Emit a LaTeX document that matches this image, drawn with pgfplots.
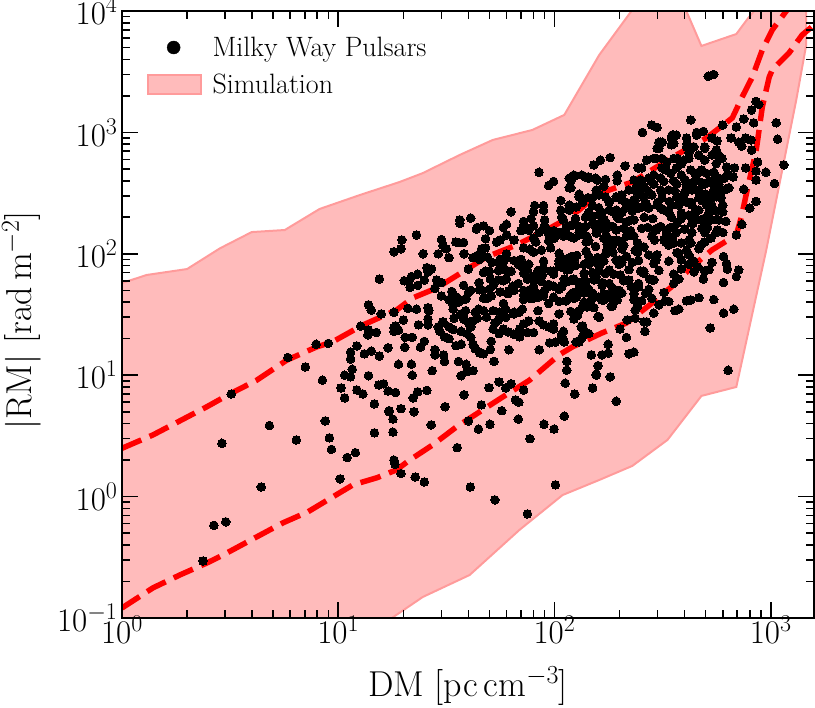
\RequirePackage{fix-cm}
\documentclass[border=0pt]{standalone}
\usepackage{pgfplots}
\pgfplotsset{compat=1.18}
\DeclareMathSizes{33}{33}{24}{17}
\DeclareMathSizes{36}{36}{26}{18}
\definecolor{bandfill}{RGB}{255,187,187}
\definecolor{bandedge}{RGB}{255,155,155}
\begin{document}
\begin{tikzpicture}
\useasboundingbox (-122pt,-90pt) rectangle (693pt,618pt);
\begin{axis}[
  scale only axis, width=692pt, height=607pt,
  at={(0pt,0pt)}, anchor=south west,
  xmode=log, ymode=log, xmin=1, xmax=1585, ymin=0.1, ymax=10000,
  xtick={1,10,100,1000}, ytick={0.1,1,10,100,1000,10000},
  axis on top,
  tick align=inside, major tick length=16pt, minor tick length=8pt,
  every tick/.style={black,line width=1.6pt},
  axis line style={black,line width=2.2pt},
  tick label style={font=\fontsize{33}{38}\selectfont},
  xticklabel style={yshift=5pt},
  yticklabel style={xshift=-1pt},
  label style={font=\fontsize{36}{42}\selectfont},
  xlabel={DM [pc\,cm$^{-3}$]},
  ylabel={$|$RM$|$ [rad\,m$^{-2}$]},
  xlabel style={at={(rel axis cs:0.5,0)},anchor=base,yshift=-79pt,xshift=0pt},
  ylabel style={at={(rel axis cs:0,0.49)},anchor=base,yshift=90pt},
  legend style={at={(0.031,0.964)},anchor=north west,draw=none,fill=none,
    font=\fontsize{28}{33}\selectfont,row sep=12pt,
    /tikz/every odd column/.append style={column sep=9pt}},
  legend cell align=left,
]
\addlegendimage{legend image code/.code={\fill[black] (26pt,0pt) circle (6.5pt);}}
\addlegendentry{Milky Way Pulsars}
\addlegendimage{legend image code/.code={\draw[bandedge,fill=bandfill,line width=2pt] (0pt,-9pt) rectangle (53pt,10pt);}}
\addlegendentry{Simulation}

% simulation envelope
\addplot[forget plot,draw=bandedge,fill=bandfill,line width=2pt] coordinates {
(1,57.4) (1.30,66.9) (2.0,74.9) (2.84,111) (3.98,151) (5.66,157) (8.2,234) (12.6,305) (19.2,390)
(24.6,462) (36.4,651) (51.8,866) (79,1047) (111,1393) (161,4340) (227,10000) (305,20000) (407,10000)
(478,5150) (693,6460) (787,8750) (857,10500) (1000,20000) (1459,20000) (1459,5250) (1312,1850) (953,107)
(693,8.0) (478,6.75) (333,2.93) (229,1.79) (161,1.37) (109,1.03) (68.9,.532) (40.5,.226) (24.6,.149)
(17.7,.1) (12.6,.055) (1,.055)
} -- cycle;

% pulsars
\addplot[forget plot,only marks,mark=*,mark size=4.3pt,mark options={fill=black,draw=black,line width=0pt}] coordinates {
(2.37,.295) (2.66,.58) (3.02,.62) (2.9,2.75) (3.2,7.0) (4.4,1.2) (4.8,3.85) (6.4,2.93) (5.85,14) (7.05,11.7)
(7.9,18) (9.0,18.3) (8.45,9.1) (8.7,4.2) (9.1,3.05) (9.3,2.45) (10.2,1.4) (11,2.1) (12,2.3) (12.7,25.4)
(13.8,38) (14.2,34.4) (15.8,32) (18.1,33) (13.8,23.6) (13.7,21.5) (15,22.5) (18.1,24.5) (18.1,23) (12.2,17.4)
(11.4,15.5) (11.4,13.6) (13.2,15) (14.2,15.8) (17,16.8) (15.5,14.4) (19,12.3) (11.6,11.2) (10.7,10) (11.4,9.7)
(13.8,9.9) (15.4,8.3) (16.2,8.5) (17,7.4) (18.4,7.2) (10.3,7.85) (10.7,6.5) (12.2,7.55) (13,7) (14.7,5.8)
(17.2,5) (17.9,4.35) (19.5,5.3) (14.7,3.35) (17.9,3.4) (18.1,2) (18.3,1.85) (19.5,1.55) (22.7,1.45) (25,1.32)
(40.8,1.2) (53,.94) (75,.72) (101,1.25) (35.5,2.53) (77,3.0) (99.5,3.6) (89.4,3.95) (111,4.6) (68,4.35)
(57,5.1) (50.3,3.95) (44.5,3.6) (40,4.2) (45.9,5.7) (66,6.25) (68.5,6) (38.2,6.9) (31.2,5.5) (26.9,3.9)
(22.4,5) (17.2,5.1) (22.2,6.5) (23.3,7.3) (22,10) (27.2,10.9) (37,9.9) (39.3,10.7) (49.8,7.9) (55.4,8.8)
(59.5,7.85) (63,8.5) (72,7.55) (112,8.6) (124,7) (150,7.85) (156,10) (114,11)
(635,11) (525,24.5) (605,32.5) (675,35) (545,42) (465,43.5) (427,41.7) (408,41) (376,35) (360,34)
(338,40.5) (325,41) (304,38) (288,32.5) (267,27.5) (259,27.5) (262,23) (233,15.5) (221,15) (215,20.5)
(201,24) (217,28.5) (236,29.5) (236,34.4) (242,37) (233,41.7) (253,41) (177,15.2) (166,14.7) (148,14.7)
(177,18) (159,12) (156,10.2) (181,9.7) (193,6.1) (133,20) (126,18.8) (159,30.5) (123,29) (133,25)
(136,24) (110,23) (111,18.8) (108,21) (605,95) (625,83) (630,75) (711,73.6) (693,65) (605,58)
(535,85) (495,72) (488,62) (441,71) (460,78) (386,75) (376,62) (282,60.8) (276,62) (245,53.5)
(264,47.5) (282,43) (221,60.8) (226,54) (201,67) (186,52) (205,47.5) (195,41.7) (183,43.5) (183,37)
(152,36) (119,33.5) (135,37) (141,36.5) (105,40.5) (113,41) (123,43) (130,52) (121,47.5) (148,41.7)
(165,41.7) (150,47.5) (166,58) (156,65) (172,69) (179,73.6) (130,58) (140,59) (108,53.5) (121,60.8)
(114,73.6) (107,78) (150,86) (161,79) (144,95) (158,93) (172,99) (193,89) (205,85) (229,85)
(250,72) (259,72) (242,103) (273,98) (298,98) (295,89) (368,102) (386,89) (418,98) (441,87)
(427,1266) (282,1150) (298,1100) (255,1000) (356,950) (347,900) (455,1000) (488,1020) (455,950) (600,1150)
(750,1290) (1060,1200) (1075,880) (815,1530) (855,1800) (880,1700) (834,1200) (693,1110) (655,900) (711,830)
(765,900) (810,866) (735,770) (815,716) (870,570) (1150,540) (950,470) (1040,380) (855,405) (855,480)
(765,510) (750,340) (855,270) (800,238) (735,175) (693,143) (680,510) (640,445) (625,520) (560,716)
(575,650) (595,610) (495,740) (565,850) (535,900) (410,810) (304,830) (315,830) (304,740) (356,810)
(181,620) (163,590) (152,540) (212,530) (124,440) (119,400) (119,350) (139,430) (144,420) (158,405)
(172,410) (169,360) (156,335) (195,445) (195,400) (267,592) (295,610) (245,510) (253,510) (328,490)
(366,510) (370,610) (418,680) (396,590)
(514,2900) (545,3000)
(350,950) (366,950) (347,790) (310,830) (298,740) (314,610) (288,610) (243,510) (408,900) (455,990)
(441,760) (408,760) (495,760) (535,650) (495,590) (465,650) (418,610) (386,550) (356,610) (331,570)
(314,510) (288,445) (273,420) (250,405) (233,405) (221,335) (205,305) (240,360) (259,360) (288,375)
(310,420) (345,460) (386,445) (427,490) (465,470) (505,460) (546,405) (495,375) (455,405) (432,385)
(408,350) (368,375) (338,335) (310,335) (282,305) (259,290) (236,277) (215,265) (195,290) (179,265)
(166,220) (179,229) (193,229) (205,220) (229,225) (245,238) (273,238) (310,238) (347,252) (376,252)
(408,267) (432,252) (465,288) (505,252) (546,335) (465,335) (396,305) (368,295) (314,288) (518,218)
(465,229) (418,208) (386,218) (347,200) (321,229) (298,252) (253,243) (490,195) (450,195) (368,178)
(328,157) (298,162) (288,157) (253,162) (233,190) (215,183) (199,195) (186,222) (174,178) (163,165)
(174,140) (193,130) (215,140) (233,140) (242,123) (209,118) (186,118) (338,140) (366,150) (432,178)
(432,150) (480,190) (427,123) (475,118) (386,123) (338,118) (321,130)
(560,555) (546,470) (575,420) (575,375) (480,490) (450,445) (480,385) (432,335) (408,375) (475,295)
(535,245) (600,252) (600,222) (575,190) (620,185) (565,157) (495,178) (480,162) (495,150) (436,178)
(495,125) (465,110) (408,107) (376,101) (560,295) (535,385) (570,305) (530,190)
(295,157) (310,168) (331,143) (356,123) (328,125) (282,140) (259,114) (203,123) (205,110) (236,107)
(215,95) (199,89) (186,103) (179,130) (195,200) (179,270) (172,295) (161,305) (150,290) (130,295)
(135,265) (117,229) (126,243) (108,200) (144,220) (139,200) (161,210) (161,178) (150,178) (139,168)
(130,168) (121,172) (113,162) (105,150) (117,140) (130,143) (141,140) (156,148) (172,157) (186,168)
(193,157) (209,162) (226,190) (215,243) (233,277) (245,320) (205,277) (193,295)
(76,28) (85,28) (69,24) (58,24) (61,22.7) (55.5,22) (64.8,21.8) (69,20.7) (75,22.5) (80,22.4)
(89,26) (94,25) (99,26.5) (99,24) (108,21.8) (110,19.5) (101,18.7) (95,18.5) (85,16.2) (61.5,16.2)
(51,19) (50.5,16.3) (47,15) (45,15.3) (52,24) (52.5,13) (114,13) (148,14.7) (130,18.8) (135,21)
(144,22) (135,25.5) (128,31) (123,29.5) (161,30) (152,36) (185,37) (169,41.5) (185,50.3) (193,48)
(147,47) (137,47.5) (130,50.3) (126,44) (118,45) (99,44) (89,45) (84,44) (80,43) (77,43)
(72,45.5) (72,50) (65,50) (61.5,49.5) (56,48.5) (51,45) (49,43) (46.5,50) (45,50.5) (44.5,35)
(47,34) (48.5,30) (53,27) (55.5,33) (59.5,35) (59.5,30) (65,33) (68.5,33) (71,35) (52,55)
(50.5,62) (48,72) (55,73) (60,73) (60,62) (64,54) (75,62) (83,69) (87,59) (90,50)
(96,72) (99,54) (108,55) (115,59) (123,62) (133,56) (138,61) (152,66) (166,55) (160,44)
(88,67) (80,54) (82,48) (94,54)
(84.8,470) (94,365) (99,395) (123,445) (134,445) (143,430) (117,420) (117,350) (130,310) (107,275)
(81,250) (89,250) (89,228) (80,222) (78,195) (107,229) (117,252) (143,290) (155,420) (63,222)
(36.5,190) (72,185) (60,175) (58,165) (72,172) (80,170) (44,165) (50,155) (70,155) (90,190)
(75,162) (85,150) (94,145) (100,135) (110,140) (117,170) (130,150) (140,125) (155,115) (91,165)
(46,110) (46,97) (49,94) (45,90) (56,90) (58,85) (70,90) (72,112) (77,109) (80,103)
(87,107) (96,112) (105,101) (105,88) (116,92) (127,97) (140,105) (108,92) (120,95) (82,125)
(54,125) (60,100) (60,92) (48,112) (48,133) (71,78) (68,82) (63,72) (75,73) (80,65)
(89,75) (99,72) (115,84) (125,80) (137,82) (150,70) (175,108)
(23,143) (19.7,130) (19.5,110) (18.1,104) (15.5,62) (20.2,60) (21.2,59) (21.8,65) (23.3,68) (24.7,100)
(26,71) (25.7,77) (27,75) (29,100) (30,131) (30.5,117) (31.6,110) (32.5,93) (35,125) (36.5,178)
(41,197) (43.5,160) (38,124) (36,124) (38.2,100) (42,93) (44,97) (40,75) (50,72) (58,60)
(47,170) (51.5,85) (56,130) (60,143) (25,60.8) (23.3,55) (21.5,53) (28.5,60.8) (30,58) (28,52)
(33.5,49) (38,55) (41,50) (30,45) (32.5,42) (35.3,44) (39,43) (34,38) (34,35) (38.5,42)
(23,35) (21,35.5) (26,36) (26.2,34) (26,29) (20,28.5) (18.4,25.5) (19,23.5) (20.4,20.5) (20.3,17)
(22,20.5) (23.5,26) (25,19) (24,17) (26,26) (29,25) (29.5,23) (31,20.7) (32.5,20) (32.5,25)
(34,23.8) (37,23) (30.5,27.5) (34.3,29.5) (37,32) (38.8,34) (43,33) (42,28) (38,29) (44,29.5)
(41,25) (39.5,22) (41,20.5) (37,18) (35,17.5) (42,18) (43,16.5) (45,15.5) (28,14.7) (28,16.2)
(30.7,14.7) (21.8,12.3) (25.7,7.5) (31,13) (36,13) (39,12.3) (42,10.9)
(55,85) (65,88) (76,82) (89,87) (105,83) (123,88) (144,82) (169,87) (199,82) (245,88) (288,83) (338,87) (418,82)
(47,70) (58,74) (72,69) (84,73) (99,68) (117,74) (137,69) (161,73) (188,68) (221,74) (259,69) (304,73) (356,68) (518,74)
(44.8,58) (55,61) (68,57) (80,60) (94,56) (111,62) (130,56) (152,61) (179,57) (209,60) (245,57) (288,61) (356,57)
(40,48) (50,51) (61,47) (76,50) (89,47) (105,51) (123,48) (144,51) (169,47) (199,50) (233,47) (273,51) (321,48)
(36,40) (47,43) (58,39) (72,42) (94,39) (117,43) (137,40)
(38,32) (52,34) (65,32) (84,34) (105,32) (130,34)
(40,27) (55,28.5) (72,26.5)
(65,130) (80,135) (94,128) (123,135) (144,128) (169,134) (199,128) (290,130) (350,135) (420,130) (530,135)
(76,157) (89,163) (99,155) (135,160) (155,165) (175,120) (225,155) (270,165) (345,165) (400,160) (510,165) (560,150)
(110,190) (125,195) (150,205) (170,190) (260,200) (285,195) (340,215) (385,195) (445,220) (560,225) (600,150)
(150,250) (160,240) (230,250) (265,260) (300,265) (340,270) (375,285) (430,265) (480,275) (530,280) (590,290)
(240,320) (270,330) (315,320) (360,330) (400,320) (440,345) (500,310) (540,320) (590,330) (620,340) (640,350)
(280,400) (320,395) (355,400) (400,410) (520,400) (560,395) (610,420) (630,450) (670,430)
};

% band edges
\addplot[forget plot,red,line width=5.5pt,dash pattern=on 21pt off 9pt] coordinates {
(1,2.5) (1.39,3.22) (1.85,4.2) (2.47,5.5) (3.15,7.0) (4.2,9.1) (5.78,13.3) (7.95,17.1) (9.4,18.8) (13.0,25.9)
(18.6,34.4) (22.1,43.3) (28.5,52.2) (37.6,70.9) (48.5,94.2) (66.7,118) (91.8,157) (105,179) (130,229) (156,305)
(179,335) (229,390) (296,518) (366,651) (504,899) (664,1315) (738,1960) (822,2860) (914,4780) (1016,6980)
(1180,10000) (1400,14000)
};
\addplot[forget plot,red,line width=5.5pt,dash pattern=on 21pt off 9pt] coordinates {
(1,.121) (1.39,.177) (1.85,.226) (2.47,.284) (2.93,.33) (4.2,.466) (5.54,.607) (7.23,.748) (9.44,.995) (11.7,1.25)
(15.1,1.43) (18.6,1.66) (21.4,2.0) (27.3,2.66) (35.2,3.75) (45,4.98) (57.5,6.6) (76.7,9.1) (105,14.7) (121,17.1)
(165,22.2) (215,26.9) (275,37.8) (347,53.3) (386,64.4) (453,84) (537,108) (693,143) (731,200) (778,334)
(857,716) (914,1620) (984,2860) (1016,3270) (1216,4520) (1397,6350) (1585,7670)
};
\end{axis}
\end{tikzpicture}
\end{document}
